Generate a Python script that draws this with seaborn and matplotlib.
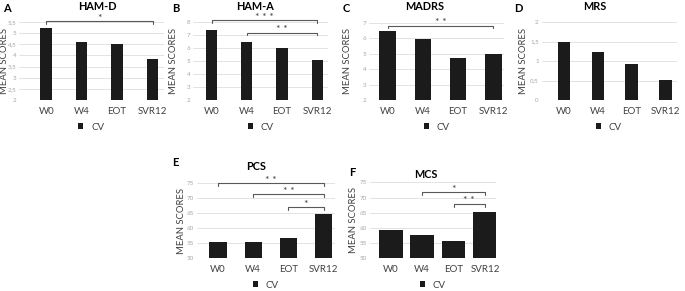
import numpy as np
import pandas as pd
import matplotlib
matplotlib.use("Agg")
import matplotlib.pyplot as plt
import seaborn as sns

# ---------------- data ----------------
visits = ["W0", "W4", "EOT", "SVR12"]
series_label = "CV"
ham_d = [5.22, 4.62, 4.50, 3.83]
ham_a = [7.35, 6.45, 6.00, 5.10]
madrs = [6.47, 5.95, 4.70, 5.00]
mrs = [1.50, 1.23, 0.92, 0.52]
pcs = [55.3, 55.4, 56.8, 64.7]
mcs = [59.3, 57.6, 55.7, 65.1]

titles = ["HAM-D", "HAM-A", "MADRS", "MRS", "PCS", "MCS"]
letters = ["A", "B", "C", "D", "E", "F"]
yticks_ham_d = [2, 2.5, 3, 3.5, 4, 4.5, 5, 5.5]
yticks_ham_a = [2, 3, 4, 5, 6, 7, 8]
yticks_madrs = [2, 3, 4, 5, 6, 7]
yticks_mrs = [0, 0.5, 1, 1.5, 2]
yticks_pcs = [50, 55, 60, 65, 70, 75]
yticks_mcs = [50, 55, 60, 65, 70, 75]
ylabel = "MEAN SCORES"

# significance brackets: (from index, to index, level, stars)
sig_ham_d = [(0, 3, 5.53, "*")]
sig_ham_a = [(0, 3, 8.12, "* * *"), (1, 3, 7.17, "* *")]
sig_madrs = [(0, 3, 6.82, "* *")]
sig_mrs = []
sig_pcs = [(0, 3, 75.0, "* *"), (1, 3, 71.3, "* *"), (2, 3, 67.0, "*")]
sig_mcs = [(1, 3, 71.7, "*"), (2, 3, 67.8, "* *")]

# ---------------- style ----------------
sns.set_theme(style="white")
plt.rcParams["font.family"] = ["Lato", "DejaVu Sans"]

W, H = 685, 291
fig = plt.figure(figsize=(W / 100, H / 100), dpi=100)

BAR = "#1b1b1b"
TXT = "#404040"
GRID = "#dedede"

# layout (pixels)
layout = [
    dict(c0=46.2, c3=152.5, gl=27, yt=22, yb=100, bw=0.33, ly=127, tx=(97, 6), lx=(7, 8), yl=4.5),
    dict(c0=211.7, c3=317.2, gl=18.5, yt=22, yb=100, bw=0.32, ly=127, tx=(255, 6), lx=(176, 8), yl=173),
    dict(c0=387.7, c3=493.3, gl=18.5, yt=23, yb=100, bw=0.47, ly=127, tx=(425, 6), lx=(346, 8), yl=348),
    dict(c0=563.8, c3=665.5, gl=22, yt=22, yb=100, bw=0.36, ly=127, tx=(595, 6), lx=(518, 8), yl=524),
    dict(c0=218.0, c3=323.7, gl=21, yt=183.3, yb=258.3, bw=0.49, ly=285, tx=(256, 167), lx=(175, 163), yl=181),
    dict(c0=390.8, c3=485.0, gl=21, yt=182.3, yb=258.3, bw=0.75, ly=285, tx=(426, 174), lx=(352, 172), yl=354),
]

values = [ham_d, ham_a, madrs, mrs, pcs, mcs]
yticks = [yticks_ham_d, yticks_ham_a, yticks_madrs, yticks_mrs, yticks_pcs, yticks_mcs]
sigs = [sig_ham_d, sig_ham_a, sig_madrs, sig_mrs, sig_pcs, sig_mcs]


def fmt(v):
    return f"{v:g}".replace(".", ",")


for i, L in enumerate(layout):
    s = (L["c3"] - L["c0"]) / 3
    x0 = L["c0"] - L["gl"]
    x1 = L["c3"] + 11
    ax = fig.add_axes([x0 / W, 1 - L["yb"] / H, (x1 - x0) / W, (L["yb"] - L["yt"]) / H])
    df = pd.DataFrame({"visit": visits, "score": values[i]})
    sns.barplot(data=df, x="visit", y="score", order=visits, color=BAR,
                width=L["bw"], ax=ax, label=series_label, saturation=1,
                edgecolor="none", zorder=3)
    ax.set_xlim(-L["gl"] / s, 3 + 11 / s)
    yt = yticks[i]
    ax.set_ylim(yt[0], yt[-1])
    ax.set_yticks(yt)
    ax.set_yticklabels([fmt(v) for v in yt], color="#a6a6a6", fontsize=4.5)
    ax.tick_params(axis="y", length=0, pad=2.2)
    ax.tick_params(axis="x", length=0, pad=5, labelsize=7, labelcolor=TXT)
    for sp in ax.spines.values():
        sp.set_visible(False)
    ax.yaxis.grid(True, color=GRID, linewidth=0.6, zorder=0)
    ax.set_axisbelow(True)
    ax.set_xlabel("")
    ax.set_ylabel("")
    fig.text(L["yl"] / W, 1 - (L["yt"] + L["yb"]) / 2 / H, ylabel, rotation=90,
             ha="center", va="center", fontsize=6.8, color=TXT)

    # brackets
    yr = yt[-1] - yt[0]
    tick = 2.5 * yr / (L["yb"] - L["yt"])
    for (a, b, lvl, st) in sigs[i]:
        ax.plot([a, a, b, b], [lvl - tick, lvl, lvl, lvl - tick], color="#595959",
                lw=0.8, clip_on=False, zorder=4)
        ax.annotate(st, xy=((a + b) / 2, lvl), xytext=(0, 0.5), textcoords="offset points",
                    ha="center", va="baseline", fontsize=7.5, color=TXT, annotation_clip=False)

    # legend
    lg = ax.legend(loc="center", bbox_to_anchor=((x0 + x1) / 2 / W, 1 - L["ly"] / H),
                   bbox_transform=fig.transFigure, frameon=False, fontsize=7,
                   handlelength=0.5, handleheight=0.5, handletextpad=0.8,
                   borderpad=0, borderaxespad=0)
    for t in lg.get_texts():
        t.set_color(TXT)

    fig.text(L["tx"][0] / W, 1 - L["tx"][1] / H, titles[i], ha="center", va="center",
             fontsize=7.8, fontweight="bold", color="#000000")
    fig.text(L["lx"][0] / W, 1 - L["lx"][1] / H, letters[i], ha="center", va="center",
             fontsize=8, fontweight="bold", color="#000000")

fig.savefig("out.png", dpi=100, facecolor="white")
